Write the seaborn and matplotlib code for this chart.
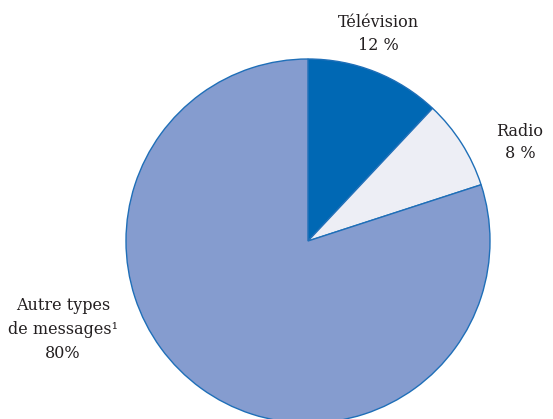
import matplotlib
matplotlib.use("Agg")
import matplotlib.pyplot as plt
import seaborn as sns

categories = ["Télévision", "Radio", "Autre types", "de messages¹"]
values = [12, 8, 80]
value_labels = ["12 %", "8 %", "80%"]
colors = ["#0068b4", "#edeef5", "#859ccf"]

sns.set_theme(style="white")
plt.rcParams['font.family'] = ['DejaVu Serif']

W, H = 553, 419
fig = plt.figure(figsize=(W / 100, H / 100), dpi=100)
ax = fig.add_axes([0, 0, 1, 1])
cx, cy, r = 308, H - 241, 182
ax.pie(values, colors=sns.color_palette(colors), startangle=90, counterclock=False,
       center=(cx, cy), radius=r,
       wedgeprops=dict(edgecolor="#1f6fb8", linewidth=1.0))
ax.set_xlim(0, W)
ax.set_ylim(0, H)
ax.set_aspect("equal")
ax.axis("off")

tc = "#231f20"
fs = 11.5
kw = dict(ha="center", va="center", fontsize=fs, color=tc)
ax.text(378, H - 23, categories[0], **kw)
ax.text(378, H - 46, value_labels[0], **kw)
ax.text(520, H - 131, categories[1], **kw)
ax.text(520, H - 154, value_labels[1], **kw)
ax.text(63, H - 306, categories[2], **kw)
ax.text(63, H - 330, categories[3], **kw)
ax.text(63, H - 353, value_labels[2], **kw)

fig.savefig("out.png", dpi=100)
